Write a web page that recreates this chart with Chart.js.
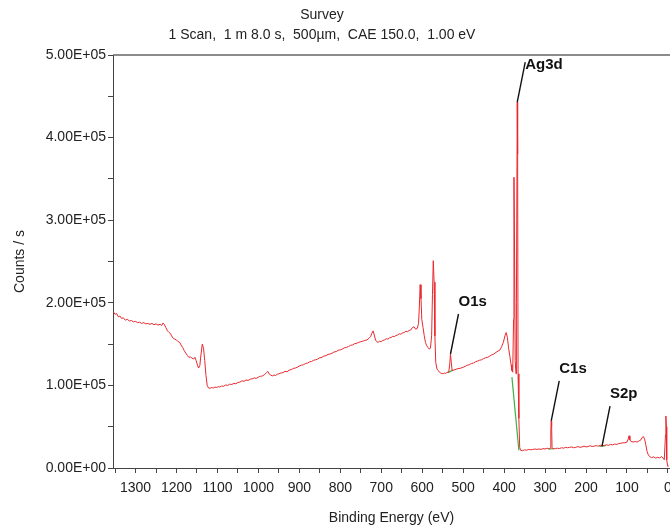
<!DOCTYPE html>
<html lang="en">
<head>
    <meta charset="UTF-8">
    <title>Survey</title>
    <script src="https://cdn.jsdelivr.net/npm/chart.js"></script>
    <style>
        html, body { margin: 0; padding: 0; background: #fff; }
        #wrap { width: 670px; height: 531px; }
    </style>
</head>
<body>
<div id="wrap"><canvas id="surveyChart"></canvas></div>
<script>
    // Spectrum (binding energy in eV, counts per second)
    var energy = [
        1354, 1350, 1346, 1342, 1338, 1334, 1330, 1325, 1320, 1315, 1310, 1305, 1300, 1295, 1290, 1285,
        1280, 1275, 1270, 1265, 1260, 1255, 1250, 1245, 1240, 1236, 1233, 1230, 1226, 1222, 1218, 1215,
        1212, 1208, 1204, 1200, 1196, 1192, 1189, 1185, 1181, 1177, 1173, 1170, 1166, 1162, 1158, 1155,
        1152, 1149, 1146, 1143, 1140, 1137, 1134, 1131, 1128, 1125, 1122, 1118, 1114, 1110, 1106, 1102,
        1098, 1094, 1090, 1085, 1080, 1075, 1070, 1065, 1060, 1055, 1050, 1045, 1040, 1035, 1030, 1025,
        1020, 1015, 1010, 1005, 1000, 995, 990, 985, 980, 977, 974, 970, 966, 962, 958, 954,
        950, 945, 940, 935, 930, 925, 920, 915, 910, 905, 900, 895, 890, 885, 880, 875,
        870, 865, 860, 855, 850, 845, 840, 835, 830, 825, 820, 815, 810, 805, 800, 795,
        790, 785, 780, 775, 770, 765, 760, 755, 750, 745, 740, 735, 730, 726, 723, 720,
        717, 714, 711, 708, 704, 700, 696, 692, 688, 684, 680, 676, 672, 668, 664, 660,
        656, 652, 648, 644, 640, 636, 632, 628, 624, 620, 616, 612, 609, 607, 605, 603,
        601, 598, 595, 592, 589, 586, 583, 580, 577, 575, 573, 571, 569, 567, 564, 561,
        558, 555, 552, 549, 546, 543, 540, 537, 535, 533, 531, 529, 527, 524, 520, 515,
        510, 505, 500, 495, 490, 485, 480, 475, 470, 465, 460, 455, 450, 445, 440, 435,
        430, 425, 420, 415, 410, 406, 402, 398, 395, 392, 389, 386, 383, 381, 379, 377,
        376, 375, 373, 371, 370, 368, 367, 366, 364, 362, 360, 355, 350, 345, 340, 335,
        330, 325, 320, 315, 310, 305, 300, 295, 290, 287, 286, 285, 284, 283, 280, 275,
        270, 265, 260, 255, 250, 245, 240, 235, 230, 225, 220, 215, 210, 205, 200, 195,
        190, 185, 180, 175, 170, 165, 160, 155, 150, 145, 140, 135, 130, 125, 120, 115,
        110, 105, 100, 97, 95, 93, 90, 85, 80, 75, 70, 66, 63, 60, 57, 54,
        51, 48, 45, 40, 35, 30, 25, 20, 16, 12, 9, 6, 5, 4, 3, 1, 0
    ];
    var counts = [
        189000, 186000, 187000, 183000, 184000, 181000, 182000, 179000, 180000, 178000, 178500, 177000, 177500, 176000, 176500, 175000,
        176000, 174500, 175000, 174000, 175000, 173500, 174500, 173000, 174000, 172500, 175500, 174000, 170000, 166000, 164000, 163000,
        160000, 157000, 156000, 155000, 153000, 152000, 149000, 146000, 142000, 139000, 136000, 134000, 134500, 133000, 132000, 134000,
        130000, 125000, 121000, 124000, 138000, 150000, 145000, 130000, 112000, 100000, 97000, 96500, 97500, 96800, 98000, 97500,
        98500, 98000, 99200, 99000, 100500, 100000, 101500, 101000, 102500, 102000, 103500, 104000, 105500, 105000, 106500, 106000,
        107500, 108000, 109000, 108500, 110000, 111000, 111500, 113000, 115500, 117000, 114000, 112500, 111500, 112500, 112000, 113500,
        114000, 115000, 115500, 117000, 116500, 118500, 119000, 120500, 121000, 122000, 123500, 124500, 125000, 126500, 127000, 128500,
        129000, 130500, 131000, 132000, 133500, 134000, 135500, 136000, 137500, 138000, 139000, 140500, 141000, 142500, 143000, 144000,
        145500, 146000, 147000, 148500, 149000, 150500, 151000, 152000, 153000, 153500, 154500, 155000, 157000, 159000, 163000, 166000,
        161000, 155000, 153000, 152000, 153500, 153000, 154500, 155000, 156500, 156000, 157500, 158000, 159500, 159000, 160500, 161000,
        162500, 162000, 163500, 164000, 165500, 165000, 166500, 167000, 170000, 171000, 168000, 169000, 175000, 195000, 222000, 205000,
        180000, 170000, 160000, 152000, 148000, 146000, 144000, 145000, 160000, 210000, 251000, 225000, 160000, 128000, 120000, 118000,
        116000, 115000, 114500, 114000, 115000, 114500, 115500, 116000, 117000, 125000, 138000, 128000, 118000, 118500, 119000, 120000,
        120500, 121000, 122000, 123000, 124500, 125000, 126500, 127000, 128500, 129500, 130500, 131000, 132500, 133500, 134000, 135500,
        137000, 138000, 140000, 141500, 143000, 147000, 152000, 160000, 164000, 158000, 145000, 135000, 125000, 118000, 116000, 180000,
        352000, 300000, 130000, 114000, 200000, 443000, 380000, 114000, 60000, 25000, 21500, 21000, 22000, 21500, 22500, 22000,
        22500, 23000, 22500, 23000, 22500, 23500, 23000, 24000, 23000, 24000, 45000, 57000, 50000, 25000, 23000, 23500,
        24000, 23500, 24500, 24000, 25000, 24500, 25000, 25500, 24500, 25000, 26000, 25000, 25500, 26500, 25500, 26000,
        27000, 26000, 26500, 27000, 26500, 27500, 26500, 27500, 28000, 27500, 28500, 28000, 29000, 28500, 29500, 30000,
        30500, 30500, 31500, 35000, 39000, 34000, 32000, 31500, 32000, 31500, 33000, 34000, 37000, 38000, 35000, 28000,
        20000, 16000, 14000, 12500, 13500, 12000, 13000, 12000, 14000, 12000, 10000, 40000, 63000, 50000, 10000, 3000, 2000
    ];

    // Background lines under the marked peaks
    var bgO1sEnergy = [538, 524];
    var bgO1sCounts = [115500, 118500];
    var bgAgEnergy = [381, 364];
    var bgAgCounts = [110000, 21500];
    var bgC1sEnergy = [292, 279];
    var bgC1sCounts = [23000, 23500];
    var bgS2pEnergy = [167, 152];
    var bgS2pCounts = [26000, 27000];

    // Peak labels
    var peakNames = ['Ag3d', 'O1s', 'C1s', 'S2p'];
    var peakEnergy = [368, 531, 285, 161];
    var peakCounts = [443000, 138000, 57000, 26500];

    // Axis ticks: every 50 eV, labelled every 100 eV
    var energyTicks = [];
    for (var t = 0; t <= 1350; t += 50) energyTicks.push(t);

    var titleLines = ['Survey', '1 Scan,  1 m 8.0 s,  500\u00b5m,  CAE 150.0,  1.00 eV'];

    function pairs(xs, ys) {
        return xs.map(function (x, i) { return { x: x, y: ys[i] }; });
    }

    function sci(v) {
        if (v === 0) return '0.00E+00';
        var e = Math.floor(Math.log10(v));
        var m = v / Math.pow(10, e);
        return m.toFixed(2) + 'E+' + (e < 10 ? '0' + e : e);
    }

    var FONT = '"Liberation Sans", Arial, sans-serif';

    var decorPlugin = {
        id: 'decor',
        afterDatasetsDraw: function (chart) {
            var ctx = chart.ctx, xs = chart.scales.x, ys = chart.scales.y, area = chart.chartArea;
            ctx.save();
            ctx.strokeStyle = '#111';
            ctx.lineWidth = 1.4;
            ctx.fillStyle = '#111';
            ctx.font = 'bold 15px ' + FONT;
            ctx.textBaseline = 'middle';
            ctx.textAlign = 'left';
            for (var i = 0; i < peakNames.length; i++) {
                var px = xs.getPixelForValue(peakEnergy[i]);
                var py = ys.getPixelForValue(peakCounts[i]);
                var tx = px + 8, ty = py - 40;
                ctx.beginPath();
                ctx.moveTo(px, py);
                ctx.lineTo(tx, ty);
                ctx.stroke();
                ctx.fillText(peakNames[i], tx, Math.max(area.top + 10, ty - 12));
            }
            ctx.restore();
        },
        afterDraw: function (chart) {
            var ctx = chart.ctx, area = chart.chartArea;
            ctx.save();
            ctx.strokeStyle = '#666';
            ctx.lineWidth = 1.5;
            ctx.beginPath();
            ctx.moveTo(area.left, area.top);
            ctx.lineTo(chart.width, area.top);
            ctx.stroke();
            ctx.fillStyle = '#222';
            ctx.font = '14px ' + FONT;
            ctx.textAlign = 'center';
            ctx.textBaseline = 'middle';
            ctx.fillText(titleLines[0], 322, 15);
            ctx.fillText(titleLines[1], 322, 35);
            ctx.restore();
        }
    };

    function bgSet(xs, ys) {
        return {
            data: pairs(xs, ys),
            borderColor: '#3cb043',
            borderWidth: 1.2,
            pointRadius: 0,
            fill: false,
            tension: 0
        };
    }

    var ctx = document.getElementById('surveyChart').getContext('2d');
    var surveyChart = new Chart(ctx, {
        type: 'line',
        data: {
            datasets: [
                {
                    data: pairs(energy, counts),
                    borderColor: '#e8282e',
                    borderWidth: 1,
                    pointRadius: 0,
                    fill: false,
                    tension: 0
                },
                bgSet(bgO1sEnergy, bgO1sCounts),
                bgSet(bgAgEnergy, bgAgCounts),
                bgSet(bgC1sEnergy, bgC1sCounts),
                bgSet(bgS2pEnergy, bgS2pCounts)
            ]
        },
        options: {
            responsive: true,
            maintainAspectRatio: false,
            animation: false,
            events: [],
            layout: { padding: { top: 55, left: 0, right: 0, bottom: 0 } },
            plugins: {
                legend: { display: false },
                title: { display: false },
                tooltip: { enabled: false }
            },
            scales: {
                x: {
                    type: 'linear',
                    reverse: true,
                    min: -5,
                    max: 1355,
                    afterBuildTicks: function (axis) {
                        axis.ticks = energyTicks.map(function (v) { return { value: v }; });
                    },
                    afterFit: function (axis) {
                        axis.height = 63;
                        axis.paddingLeft = 0;
                        axis.paddingRight = 0;
                    },
                    ticks: {
                        autoSkip: false,
                        maxRotation: 0,
                        padding: 7,
                        color: '#222',
                        font: { family: FONT, size: 14 },
                        callback: function (v) { return v % 100 === 0 ? String(v) : ''; }
                    },
                    grid: { drawOnChartArea: false, tickLength: 5, color: '#444' },
                    border: { display: true, color: '#444', width: 1 },
                    title: {
                        display: true,
                        text: 'Binding Energy (eV)',
                        color: '#222',
                        font: { family: FONT, size: 14 },
                        padding: { top: 0, bottom: 4 }
                    }
                },
                y: {
                    min: 0,
                    max: 500000,
                    afterFit: function (axis) {
                        axis.width = 113;
                        axis.paddingTop = 0;
                        axis.paddingBottom = 0;
                    },
                    ticks: {
                        stepSize: 50000,
                        autoSkip: false,
                        padding: 2,
                        color: '#222',
                        font: { family: FONT, size: 14 },
                        callback: function (v) { return v % 100000 === 0 ? sci(v) : ''; }
                    },
                    grid: { drawOnChartArea: false, tickLength: 5, color: '#444' },
                    border: { display: true, color: '#444', width: 1 },
                    title: {
                        display: true,
                        text: 'Counts / s',
                        color: '#222',
                        font: { family: FONT, size: 14 },
                        padding: { top: 12, bottom: 0 }
                    }
                }
            }
        },
        plugins: [decorPlugin]
    });
</script>
</body>
</html>
